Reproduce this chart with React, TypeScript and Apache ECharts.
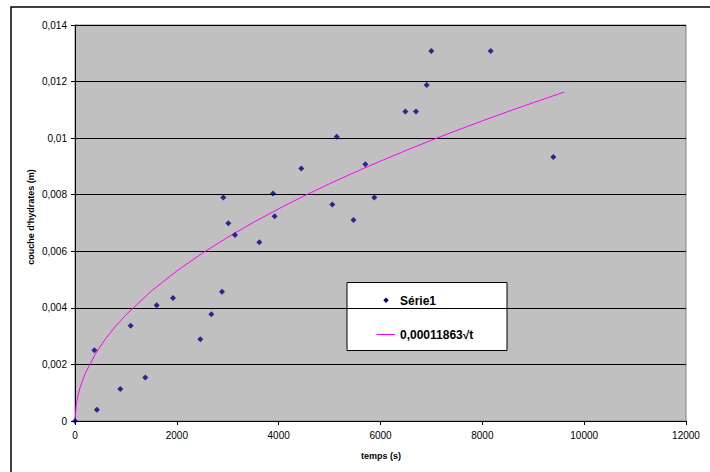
import React, { useEffect, useRef } from "react";
import * as echarts from "echarts";

// Measured data points: time (s) and hydrate layer thickness (m)
const timeValues = [
  0, 380, 430, 890, 1094, 1381, 1604, 1925, 2461, 2677, 2887, 2913, 3011, 3142,
  3620, 3889, 3921, 4445, 5054, 5139, 5470, 5702, 5878, 6488, 6697, 6907, 6998,
  8164, 9394,
];
const layerValues = [
  0, 0.0025, 0.0004, 0.00113, 0.00337, 0.00154, 0.00409, 0.00435, 0.00289,
  0.00377, 0.00457, 0.0079, 0.00699, 0.00658, 0.00632, 0.00804, 0.00724,
  0.00893, 0.00765, 0.01005, 0.00711, 0.00908, 0.0079, 0.01094, 0.01094,
  0.01188, 0.01308, 0.01308, 0.00933,
];

// Trend curve 0,00011863·√t, read as tabulated points
const fitTimes = [
  0, 25, 50, 100, 200, 400, 600, 800, 1000, 1500, 2000, 2500, 3000, 3500, 4000,
  4500, 5000, 5500, 6000, 6500, 7000, 7500, 8000, 8500, 9000, 9600,
];
const fitValues = [
  0, 0.000593, 0.000839, 0.001186, 0.001678, 0.002373, 0.002906, 0.003355,
  0.003751, 0.004595, 0.005305, 0.005932, 0.006498, 0.007018, 0.007503,
  0.007958, 0.008388, 0.008798, 0.009189, 0.009564, 0.009925, 0.010274,
  0.010611, 0.010937, 0.011254, 0.011623,
];

const yTickLabels = ["0", "0,002", "0,004", "0,006", "0,008", "0,01", "0,012", "0,014"];
const xTickLabels = ["0", "2000", "4000", "6000", "8000", "10000", "12000"];

const seriesName = "Série1";
const fitName = "0,00011863√t";
const xTitle = "temps (s)";
const yTitle = "couche d'hydrates (m)";

const FONT = "'Liberation Sans', Arial, sans-serif";

export default function App() {
  const ref = useRef<HTMLDivElement>(null);

  useEffect(() => {
    if (!ref.current) return;
    const chart = echarts.init(ref.current, undefined, { renderer: "svg" });
    const scatterData = timeValues.map((t, i) => [t, layerValues[i]]);
    const fitData = fitTimes.map((t, i) => [t, fitValues[i]]);

    chart.setOption({
      animation: false,
      backgroundColor: "#ffffff",
      textStyle: { fontFamily: FONT },
      grid: {
        left: 75,
        top: 25,
        right: 24,
        bottom: 51,
        show: true,
        backgroundColor: "#c0c0c0",
        borderColor: "#808080",
        borderWidth: 1,
      },
      xAxis: {
        type: "value",
        min: 0,
        max: 12000,
        interval: 2000,
        axisLine: { show: true, lineStyle: { color: "#000", width: 1 } },
        axisTick: { show: true, length: 4, lineStyle: { color: "#000" } },
        axisLabel: {
          margin: 9,
          fontSize: 10,
          color: "#000",
          fontFamily: FONT,
          formatter: (_v: number, i: number) => xTickLabels[i] ?? String(_v),
        },
        splitLine: { show: false },
      },
      yAxis: {
        type: "value",
        min: 0,
        max: 0.014,
        interval: 0.002,
        axisLine: { show: true, lineStyle: { color: "#000", width: 1 } },
        axisTick: { show: true, length: 4, lineStyle: { color: "#000" } },
        axisLabel: {
          margin: 8,
          fontSize: 10,
          color: "#000",
          fontFamily: FONT,
          formatter: (_v: number, i: number) => yTickLabels[i] ?? String(_v),
        },
        splitLine: { show: true, lineStyle: { color: "#000", width: 1 } },
      },
      series: [
        {
          name: seriesName,
          type: "scatter",
          symbol: "diamond",
          symbolSize: 6,
          itemStyle: { color: "#000080" },
          data: scatterData,
          z: 3,
        },
        {
          name: fitName,
          type: "line",
          symbol: "none",
          smooth: false,
          lineStyle: { color: "#ff00ff", width: 1 },
          data: fitData,
          z: 2,
        },
      ],
      graphic: [
        {
          type: "rect",
          shape: { x: 11, y: 7, width: 740, height: 500 },
          style: { fill: "none", stroke: "#000", lineWidth: 1.5 },
          silent: true,
          z: 0,
        },
        {
          type: "text",
          x: 381,
          y: 456,
          style: {
            text: xTitle,
            fontFamily: FONT,
            fontSize: 9,
            fontWeight: "bold",
            fill: "#000",
            align: "center",
            verticalAlign: "middle",
          },
        },
        {
          type: "text",
          x: 31,
          y: 217,
          rotation: Math.PI / 2,
          style: {
            text: yTitle,
            fontFamily: FONT,
            fontSize: 9,
            fontWeight: "bold",
            fill: "#000",
            align: "center",
            verticalAlign: "middle",
          },
        },
        {
          type: "group",
          z: 10,
          children: [
            {
              type: "rect",
              shape: { x: 347, y: 282.5, width: 160, height: 68 },
              style: { fill: "#fff", stroke: "#000", lineWidth: 1 },
            },
            {
              type: "polygon",
              shape: {
                points: [
                  [386, 297.5],
                  [388.7, 300.3],
                  [386, 303],
                  [383.3, 300.3],
                ],
              },
              style: { fill: "#000080" },
            },
            {
              type: "text",
              x: 400,
              y: 300.5,
              style: {
                text: seriesName,
                fontFamily: FONT,
                fontSize: 12,
                fontWeight: "bold",
                fill: "#000",
                verticalAlign: "middle",
              },
            },
            {
              type: "line",
              shape: { x1: 376.5, y1: 334.5, x2: 395, y2: 334.5 },
              style: { stroke: "#ff00ff", lineWidth: 1 },
            },
            {
              type: "text",
              x: 400,
              y: 334.5,
              style: {
                text: fitName,
                fontFamily: FONT,
                fontSize: 12,
                fontWeight: "bold",
                fill: "#000",
                verticalAlign: "middle",
              },
            },
          ],
        },
      ],
    });

    return () => chart.dispose();
  }, []);

  return (
    <div
      ref={ref}
      style={{ position: "fixed", left: 0, top: 0, width: 710, height: 472 }}
    />
  );
}
